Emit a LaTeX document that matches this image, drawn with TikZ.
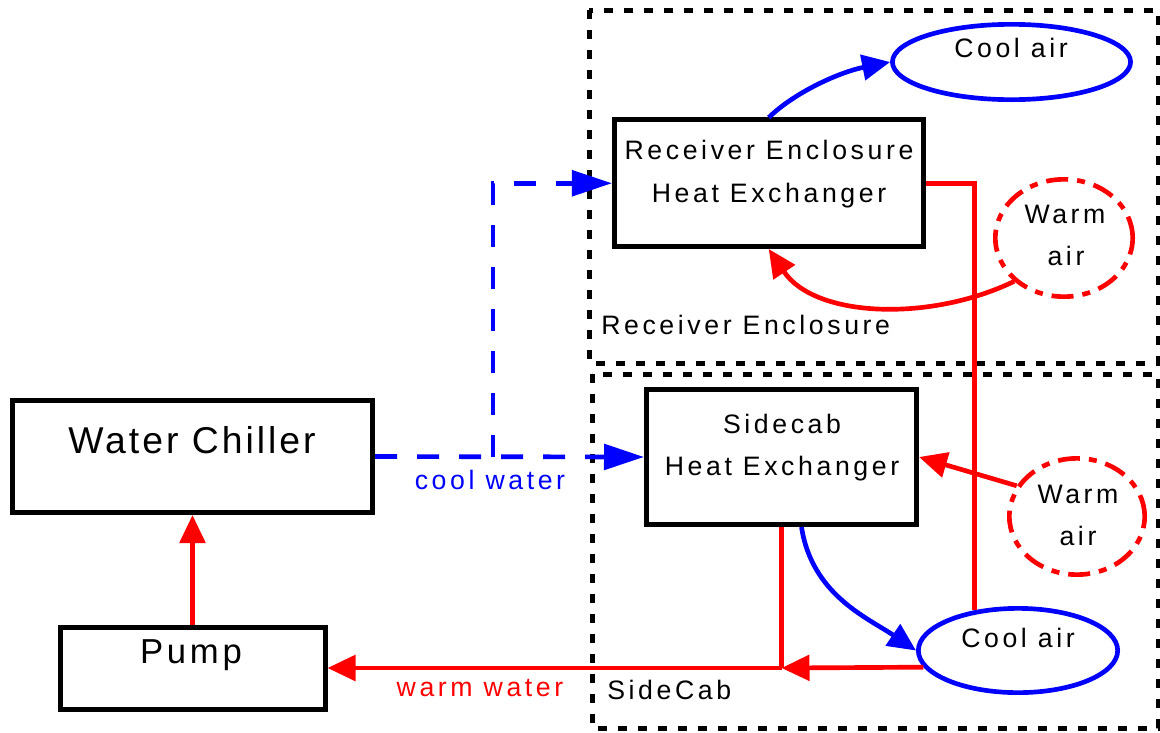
\documentclass[tikz,border=0pt]{standalone}
\usepackage{fontspec}
\setmainfont{Liberation Sans}
\newfontfamily\labf{Liberation Sans}[LetterSpace=13.5]
\newfontfamily\chillf{Liberation Sans}[LetterSpace=8]
\newfontfamily\pumpf{Liberation Sans}[LetterSpace=11]
\usetikzlibrary{arrows.meta,shapes.geometric,calc}
\begin{document}
\begin{tikzpicture}[x=0.75pt,y=-0.75pt,
  box/.style={draw=black,line width=3.75pt,fill=white,inner sep=0pt},
  zone/.style={draw=black,line width=3.75pt,dash pattern=on 6.75pt off 8.25pt},
  coolair/.style={ellipse,draw=blue,line width=3.5pt,fill=white,inner sep=0pt},
  warmair/.style={ellipse,draw=red,line width=3.5pt,fill=white,inner sep=0pt,dash pattern=on 16.5pt off 6.75pt on 6pt off 6.75pt},
  rline/.style={draw=red,line width=3.5pt},
  bline/.style={draw=blue,line width=3.5pt},
  bdash/.style={draw=blue,line width=3.5pt,dash pattern=on 16.5pt off 15pt},
  tip/.style={-{Triangle[length=21pt,width=19pt]}},
  longtip/.style={-{Triangle[length=30pt,width=19pt]}},
  lab/.style={font=\fontsize{20}{24}\selectfont\labf,inner sep=0pt},
  bigl/.style={font=\fontsize{28}{32}\selectfont\chillf,inner sep=0pt},
  pumpl/.style={font=\fontsize{26}{30}\selectfont\pumpf,inner sep=0pt}]
\useasboundingbox (0,0) rectangle (1160,732);
% zones
\draw[zone] (589,10) rectangle (1158,363);
\draw[zone] (592,374) rectangle (1158,728);
% boxes
\node[box,minimum width=270pt,minimum height=84pt] (chiller) at (192.5,456.5) {};
\node[box,minimum width=198.75pt,minimum height=61.5pt] (pump) at (192.5,668) {};
\node[box,minimum width=231.4pt,minimum height=94.9pt] (rehe) at (768.75,183.25) {};
\node[box,minimum width=202.5pt,minimum height=101.25pt] (she) at (781.5,457) {};
% air ellipses
\node[coolair,minimum width=178.6pt,minimum height=56.5pt] (coolT) at (1011.5,62) {};
\node[warmair,minimum width=103pt,minimum height=88pt] (warmT) at (1064,238) {};
\node[warmair,minimum width=101.5pt,minimum height=87.2pt] (warmB) at (1077,516.5) {};
\node[coolair,minimum width=149.5pt,minimum height=63.2pt] (coolB) at (1018,650.5) {};
% texts
\node[bigl,anchor=base] (chillT) at (192,453) {Water Chiller};
\node[pumpl,anchor=base] (pumpT) at (191,663) {Pump};
\node[lab,anchor=base] (reheT1) at (769,159) {Receiver Enclosure};
\node[lab,anchor=base] (reheT2) at (769,202) {Heat Exchanger};
\node[lab,anchor=base] (sheT1) at (782,433) {Sidecab};
\node[lab,anchor=base] (sheT2) at (782,475) {Heat Exchanger};
\node[lab,anchor=base] (coolTT) at (1011,57) {Cool air};
\node[lab,anchor=base] (coolBT) at (1018,647) {Cool air};
\node[lab,anchor=base] (warmTT1) at (1065,223) {Warm};
\node[lab,anchor=base] (warmTT2) at (1066,265) {air};
\node[lab,anchor=base] (warmBT1) at (1078,503) {Warm};
\node[lab,anchor=base] (warmBT2) at (1078,545) {air};
\node[lab,anchor=base west] (reZ) at (601,334) {Receiver Enclosure};
\node[lab,anchor=base west] (scZ) at (607,699) {SideCab};
\node[lab,text=blue] (coolW) at (490,480) {cool water};
\node[lab,text=red] (warmW) at (480,688) {warm water};
% cool water
\coordinate (br) at (493,456.5);
\draw[bdash,longtip] (chiller.east) -- (she.west);
\draw[bdash,longtip] (br) |- (rehe.west);
% warm water
\draw[rline,tip] (pump.north) -- (chiller.south);
\coordinate (jn) at (she.south |- pump.east);
\draw[rline] (she.south) -- (jn);
\draw[rline,tip] (coolB.190) -- (jn);
\draw[rline,tip] (jn) -- (pump.east);
\draw[rline] (rehe.east) -| (coolB.137);
% air flows
\draw[rline,tip] (warmT.221) .. controls (930,322) and (815,318) .. (rehe.south);
\draw[rline,tip] (warmB.153) -- (she.east);
\draw[bline,tip] (rehe.north) .. controls (795,92) and (840,72) .. (coolT.west);
\draw[bline,tip] ($(she.south)+(20,0)$) .. controls (812,595) and (868,618) .. (coolB.west);
\end{tikzpicture}
\end{document}
